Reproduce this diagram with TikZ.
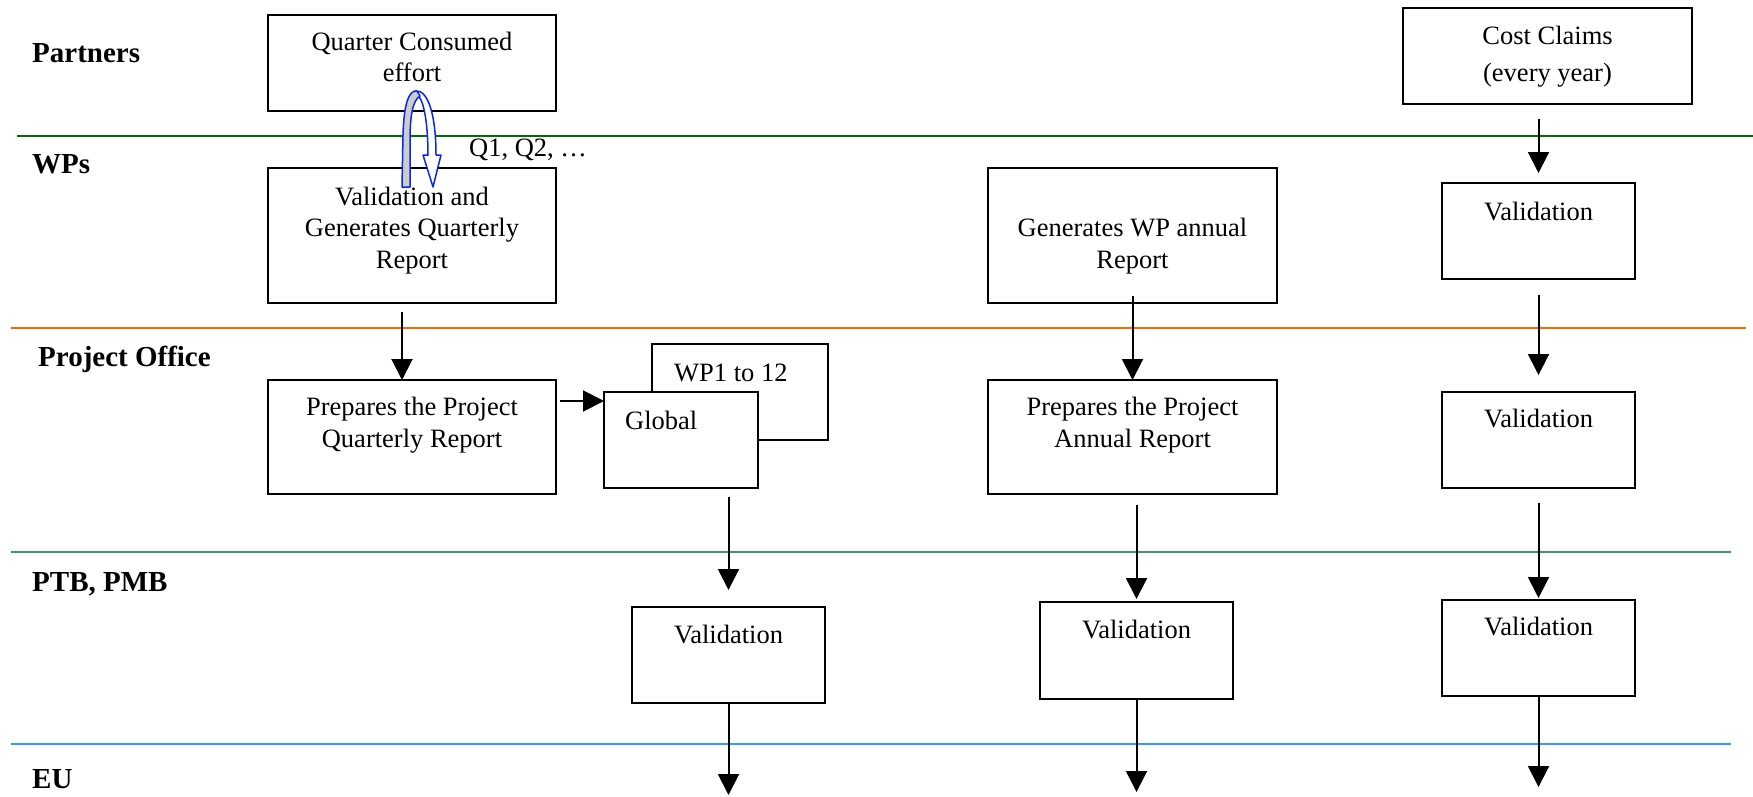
\documentclass[tikz,border=0pt]{standalone}
\usepackage{fontspec}
\setmainfont{Liberation Serif}
\usetikzlibrary{arrows.meta,fit}
\definecolor{lgreen}{RGB}{0,110,0}
\definecolor{lorange}{RGB}{255,102,0}
\definecolor{lsea}{RGB}{60,155,105}
\definecolor{lblue}{RGB}{51,153,255}
\definecolor{ublue}{RGB}{10,40,225}
\tikzset{
 box/.style={draw=black, line width=2pt, inner sep=0pt, outer sep=0pt},
 txt/.style={font=\fontsize{26.5}{31.5}\selectfont, align=center, inner sep=0pt},
 lane/.style={font=\fontsize{29}{33}\selectfont\bfseries, inner sep=0pt, anchor=base west},
 arr/.style={line width=2pt, -{Triangle[length=21pt,width=21pt]}},
 sep/.style={line width=1.8pt},
}
\begin{document}
\begin{tikzpicture}[x=1pt,y=-1pt]
\useasboundingbox (0,0) rectangle (1753,797);
% lane separators
\draw[sep, draw=lgreen] (17,136) -- (1753,136);
\draw[sep, draw=lorange] (11,328) -- (1746,328);
\draw[sep, draw=lsea] (11,552) -- (1731,552);
\draw[sep, draw=lblue] (11,744) -- (1731,744);
% lane labels
\node[lane] (lpart) at (32,63) {Partners};
\node[lane] (lwps) at (32,173) {WPs};
\node[lane] (lpo) at (38,366) {Project Office};
\node[lane] (lptb) at (32,591) {PTB, PMB};
\node[lane] (leu) at (32,788) {EU};
% boxes column 1
\node[box, fit={(268,15)(556,111)}] (qce) {};
\node[txt, anchor=base] (tqce) at (412,82) {Quarter Consumed\\effort};
\node[box, fit={(268,168)(556,303)}] (vgq) {};
\node[txt, anchor=base] (tvgq) at (412,268) {Validation and\\Generates Quarterly\\Report};
\node[box, fit={(268,380)(556,494)}] (ppq) {};
\node[txt, anchor=base] (tppq) at (412,447) {Prepares the Project\\Quarterly Report};
% stacked boxes
\node[box, fill=white, fit={(652,344)(828,440)}] (wp12) {};
\node[txt, anchor=base west] (twp12) at (674,381) {WP1 to 12};
\node[box, fill=white, fit={(604,392)(758,488)}] (glob) {};
\node[txt, anchor=base west] (tglob) at (625,429) {Global};
\node[box, fit={(632,607)(825,703)}] (vl) {};
\node[txt, anchor=base] (tvl) at (728.5,643) {Validation};
% column 2
\node[box, fit={(988,168)(1277,303)}] (gwp) {};
\node[txt, anchor=base] (tgwp) at (1132.5,268) {Generates WP annual\\Report};
\node[box, fit={(988,380)(1277,494)}] (ppa) {};
\node[txt, anchor=base] (tppa) at (1132.5,447) {Prepares the Project\\Annual Report};
\node[box, fit={(1040,602)(1233,699)}] (vm) {};
\node[txt, anchor=base] (tvm) at (1136.5,638) {Validation};
% column 3
\node[box, fit={(1403,8)(1692,104)}] (cc) {};
\node[txt, anchor=base] (tcc) at (1547.5,82) {Cost Claims\\[5.5pt](every year)};
\node[box, fit={(1442,183)(1635,279)}] (vr1) {};
\node[txt, anchor=base] (tvr1) at (1538.5,220) {Validation};
\node[box, fit={(1442,392)(1635,488)}] (vr2) {};
\node[txt, anchor=base] (tvr2) at (1538.5,427) {Validation};
\node[box, fit={(1442,600)(1635,696)}] (vr3) {};
\node[txt, anchor=base] (tvr3) at (1538.5,635) {Validation};
% Q label
\node[txt, anchor=base west] (tq) at (469,157) {Q1, Q2, …};
% free ends
\coordinate (eu1) at (728.5,795);
\coordinate (eu2) at (1136.5,792);
\coordinate (eu3) at (1538.5,787);
% arrows
\draw[arr, shorten <=9pt] ([xshift=-10pt]vgq.south) -- ([xshift=-10pt]ppq.north);
\draw[arr, shorten <=4pt] ([yshift=36pt]ppq.east) -- ([yshift=36pt]ppq.east -| glob.west);
\draw[arr, shorten <=9pt, shorten >=17pt] (glob.south -| vl.north) -- (vl.north);
\draw[arr] (vl.south) -- (eu1);
\draw[arr, shorten <=-7pt] (gwp.south) -- (ppa.north);
\draw[arr, shorten <=11pt, shorten >=3pt] (ppa.south -| vm.north) -- (vm.north);
\draw[arr] (vm.south) -- (eu2);
\draw[arr, shorten <=15pt, shorten >=10pt] (cc.south -| vr1.north) -- (vr1.north);
\draw[arr, shorten <=16pt, shorten >=17pt] (vr1.south) -- (vr2.north);
\draw[arr, shorten <=15pt, shorten >=2pt] (vr2.south) -- (vr3.north);
\draw[arr] (vr3.south) -- (eu3);
% U-turn block arrow
\draw[draw=ublue, line width=1.5pt, fill=white, line join=round]
  (416,91) .. controls (428,90) and (436,115) .. (436,155) -- (441,155) -- (433,187)
  -- (423,155) -- (428,155) .. controls (428,125) and (424,100) .. (418,96) -- cycle;
\draw[draw=ublue, line width=1.5pt, fill=black!20, line join=round]
  (402,187) -- (403,135) .. controls (404,100) and (410,90) .. (417,91)
  -- (420,96) .. controls (413,100) and (410,115) .. (410,140) -- (410,187) -- cycle;
\end{tikzpicture}
\end{document}
